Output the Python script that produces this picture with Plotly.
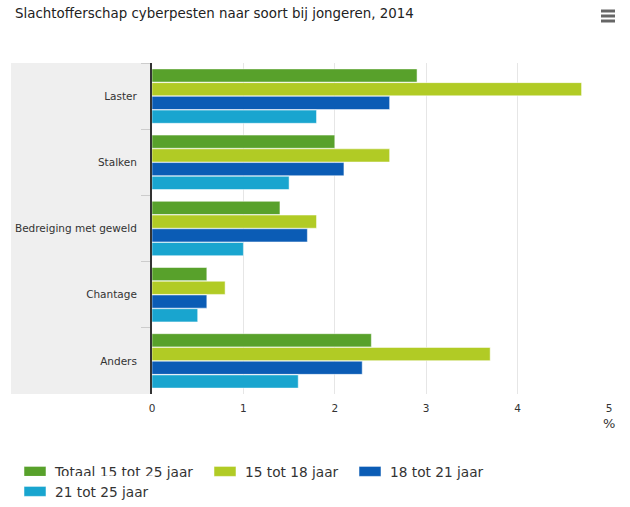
import plotly.graph_objects as go

categories = ["Laster", "Stalken", "Bedreiging met geweld", "Chantage", "Anders"]
series_names = ["Totaal 15 tot 25 jaar", "15 tot 18 jaar", "18 tot 21 jaar", "21 tot 25 jaar"]
totaal = [2.9, 2.0, 1.4, 0.6, 2.4]
jaar_15_18 = [4.7, 2.6, 1.8, 0.8, 3.7]
jaar_18_21 = [2.6, 2.1, 1.7, 0.6, 2.3]
jaar_21_25 = [1.8, 1.5, 1.0, 0.5, 1.6]
colors = ["#58a12b", "#b1cb25", "#0b5cb5", "#19a5cf"]
legend_ids = ["legend", "legend2", "legend3", "legend4"]
legend_left = [15, 205, 350, 15]
legend_top = [456, 456, 456, 476]

W, H = 630, 507
L, R, T, B = 152, 21, 63, 113
plot_w = W - L - R
plot_h = H - T - B


def px_x(p):
    return (p - L) / plot_w


def px_y(p):
    return (H - B - p) / plot_h


fig = go.Figure()
for name, vals, col, leg in zip(series_names, [totaal, jaar_15_18, jaar_18_21, jaar_21_25],
                                colors, legend_ids):
    fig.add_trace(go.Bar(y=categories, x=vals, name=name, orientation="h", legend=leg,
                         marker=dict(color=col, line=dict(color="rgba(255,255,255,0.5)", width=1))))

# grey band behind the category labels
fig.add_shape(type="rect", xref="paper", yref="paper", x0=px_x(11), x1=0, y0=0, y1=1,
              fillcolor="#efefef", line_width=0, layer="below")

# menu icon
for yy in [11, 16, 21]:
    fig.add_shape(type="line", xref="paper", yref="paper", x0=px_x(601), x1=px_x(615),
                  y0=px_y(yy), y1=px_y(yy), line=dict(color="#666666", width=3))

fig.add_annotation(text="%", xref="paper", yref="paper", x=1, y=px_y(424), xanchor="center",
                   yanchor="middle", showarrow=False, font=dict(size=13, color="#333333"))

fig.update_layout(
    width=W, height=H,
    margin=dict(l=L, r=R, t=T, b=B),
    paper_bgcolor="white", plot_bgcolor="white",
    font=dict(family="DejaVu Sans", color="#333333"),
    title=dict(text="Slachtofferschap cyberpesten naar soort bij jongeren, 2014",
               x=15 / W, xanchor="left", y=1 - 13 / H, yanchor="middle",
               font=dict(size=13.4, color="#222222")),
    barmode="group", bargap=0.17, bargroupgap=0.04,
    showlegend=True,
)

# one legend per entry, in container units so the margins are not pushed
for leg, left, top in zip(legend_ids, legend_left, legend_top):
    fig.update_layout({leg: dict(orientation="h", xref="container", yref="container",
                                 x=left / W, xanchor="left", y=1 - top / H, yanchor="top",
                                 font=dict(size=13.7, color="#333333"), itemclick=False)})

fig.update_xaxes(range=[0, 5], dtick=1, showgrid=True, gridcolor="#e6e6e6", gridwidth=1,
                 zeroline=False, ticks="", ticklabelstandoff=6,
                 tickfont=dict(size=10.5, color="#333333"))
fig.update_yaxes(autorange="reversed", showline=True, linecolor="#333333", linewidth=2,
                 ticks="outside", tickson="boundaries", ticklen=9, tickcolor="#cccccc",
                 ticklabelstandoff=11, tickfont=dict(size=10.5, color="#333333"))

# page without body margin, wider and flatter legend swatches
post = """
document.body.style.margin = '0';
document.querySelectorAll('.legendpoints path').forEach(function (p) {
    p.setAttribute('d', 'M11,5H-11V-5H11Z');
});
"""
fig.write_html("out.html", post_script=post, config={"displayModeBar": False})
